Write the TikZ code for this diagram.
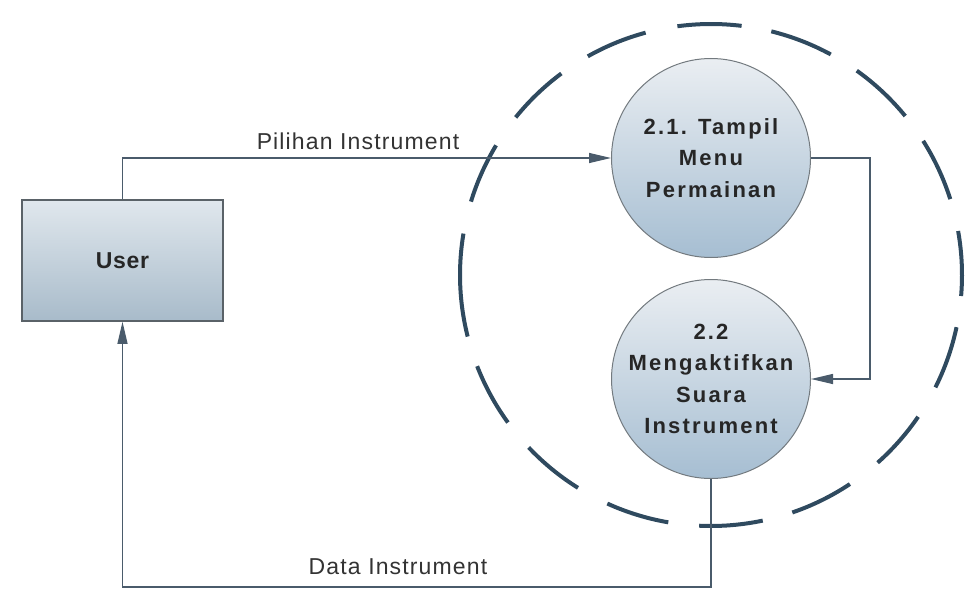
\documentclass[tikz,border=0pt]{standalone}
\usepackage{fontspec}
\setmainfont{Liberation Sans}
\newfontfamily\procfont[LetterSpace=10]{Liberation Sans}
\newfontfamily\userfont[LetterSpace=3]{Liberation Sans}
\newfontfamily\flowfont[LetterSpace=5]{Liberation Sans}
\usetikzlibrary{arrows.meta}

\definecolor{linecol}{HTML}{4A5B6B}
\definecolor{edgecol}{HTML}{5A6268}
\definecolor{dashcol}{HTML}{2F4A5F}
\definecolor{shadetop}{HTML}{EAEEF2}
\definecolor{shadebot}{HTML}{A6BED2}
\definecolor{boxtop}{HTML}{E0E7ED}
\definecolor{boxbot}{HTML}{A8BBCA}

\tikzset{
  entity/.style={draw=edgecol, line width=1.6pt, rectangle,
    minimum width=201pt, minimum height=121pt, inner sep=0pt,
    top color=boxtop, bottom color=boxbot,
    font=\userfont\bfseries\fontsize{23}{26}\selectfont, text=black!85},
  process/.style={draw=edgecol!85, line width=1pt, circle,
    minimum size=199pt, inner sep=0pt, align=center,
    top color=shadetop, bottom color=shadebot,
    font=\procfont\bfseries\fontsize{22}{31.5}\selectfont, text=black!85},
  flow/.style={draw=linecol, line width=1.3pt,
    -{Triangle[length=22pt,width=10pt]}},
  flowlabel/.style={font=\flowfont\fontsize{23}{26}\selectfont,
    text=black!80, anchor=base},
  boundary/.style={draw=dashcol, line width=4pt}
}

\begin{document}
\begin{tikzpicture}[x=1pt,y=-1pt]
  \useasboundingbox (0,0) rectangle (965,591);

  % process boundary: dashed circle, one arc per dash (angles counted upwards)
  \coordinate (bc) at (711,275);
  \foreach \a/\b in {83/97.7, 105.1/119.4, 126.6/141.1, 148.9/163,
                     170.5/194.2, 201.3/216, 223.4/238, 245.6/260.2,
                     267.3/281.9, 288.9/303.6, 311.6/325.6, 333.4/348,
                     355.2/370.1, 17.6/32.3, 39.3/54.5, 61.5/76.1}
    \draw[boundary] ([shift={(bc)}]-\a:251) arc[start angle=-\a, end angle=-\b, radius=251];

  % external entity and processes
  \node[entity] (user) at (122.5,260.5) {User};
  \node[process] (p1) at (711,158) {2.1. Tampil\\Menu\\Permainan};
  \node[process] (p2) at (711,379) {2.2\\Mengaktifkan\\Suara\\Instrument};

  % turning points of the flows
  \coordinate (c1) at (user.north |- p1.west);
  \coordinate (c2) at (870,158);
  \coordinate (c3) at (870,379);
  \coordinate (c4) at (p2.south |- 0,587);
  \coordinate (c5) at (user.south |- 0,587);

  % data flows
  \draw[flow] (user.north) -- (c1) -- (p1.west);
  \draw[flow] (p1.east) -- (c2) -- (c3) -- (p2.east);
  \draw[flow] (p2.south) -- (c4) -- (c5) -- (user.south);

  % flow labels
  \node[flowlabel] (l1) at (358,149) {Pilihan Instrument};
  \node[flowlabel] (l2) at (398,574) {Data Instrument};
\end{tikzpicture}
\end{document}
